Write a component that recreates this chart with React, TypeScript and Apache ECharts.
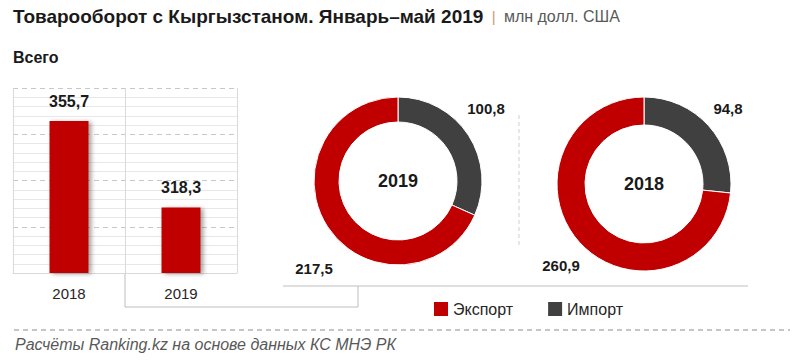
import React, { useEffect, useRef } from "react";
import * as echarts from "echarts";

const barCategories = ["2018", "2019"];
const barTotals = [355.7, 318.3];
const pieYears = ["2019", "2018"];
const exportValues = [217.5, 260.9];
const importValues = [100.8, 94.8];
const seriesNames = ["Экспорт", "Импорт"];
const yTicks = { min: 290, max: 370, interval: 20 };

const RED = "#C00000";
const DARK = "#404040";
const FONT = "'Liberation Sans', Arial, sans-serif";

const fmt = (v: number) => v.toFixed(1).replace(".", ",");

const pieLayout = [
  { center: [398, 181], radius: [59, 84], labelOff: [[88, -73], [-84, 87]] },
  { center: [644, 184], radius: [59, 87], labelOff: [[84, -76], [-83, 81]] },
];

export default function App() {
  const ref = useRef<HTMLDivElement>(null);
  useEffect(() => {
    if (!ref.current) return;
    const chart = echarts.init(ref.current, null, { renderer: "svg" });
    const pieSeries = pieYears.map((year, i) => ({
      type: "pie",
      name: year,
      center: pieLayout[i].center,
      radius: pieLayout[i].radius,
      startAngle: 90,
      clockwise: true,
      avoidLabelOverlap: false,
      silent: true,
      itemStyle: { borderColor: "#fff", borderWidth: 1 },
      label: {
        show: true,
        position: "outside",
        formatter: (p: any) => fmt(p.value),
        fontFamily: FONT,
        fontWeight: "bold",
        fontSize: 15,
        color: "#1a1a1a",
      },
      labelLine: { show: false },
      labelLayout: (p: any) => {
        const off = pieLayout[i].labelOff[p.dataIndex];
        return {
          x: pieLayout[i].center[0] + off[0],
          y: pieLayout[i].center[1] + off[1],
          align: "center",
          verticalAlign: "middle",
        };
      },
      data: [
        { name: seriesNames[1], value: importValues[i], itemStyle: { color: DARK } },
        { name: seriesNames[0], value: exportValues[i], itemStyle: { color: RED } },
      ],
    }));

    chart.setOption({
      animation: false,
      color: [RED, DARK],
      textStyle: { fontFamily: FONT },
      grid: { left: 13, right: 563, top: 88, bottom: 88 },
      xAxis: {
        type: "category",
        data: barCategories,
        axisLine: { show: true, lineStyle: { color: "#d9d9d9" } },
        axisTick: { show: false },
        splitLine: { show: true, lineStyle: { color: "#d9d9d9" } },
        axisLabel: { color: "#262626", fontSize: 15, margin: 13, fontFamily: FONT },
      },
      yAxis: {
        type: "value",
        min: yTicks.min,
        max: yTicks.max,
        interval: yTicks.interval,
        axisLabel: { show: false },
        axisLine: { show: false },
        axisTick: { show: false },
        minorTick: { show: false, splitNumber: 5 },
        splitLine: { show: true, lineStyle: { color: "#c8c8c8", type: [5, 4] } },
        minorSplitLine: { show: true, lineStyle: { color: "#e8e8e8" } },
      },
      legend: {
        data: seriesNames,
        left: 432,
        top: 300,
        padding: 0,
        itemWidth: 16,
        itemHeight: 16,
        itemGap: 33,
        icon: "rect",
        textStyle: { fontSize: 16, color: "#262626", fontFamily: FONT, padding: [0, 0, 0, -1] },
        selectedMode: false,
      },
      series: [
        {
          type: "bar",
          data: barTotals,
          barWidth: 39,
          silent: true,
          itemStyle: {
            color: RED,
            shadowColor: "rgba(0,0,0,0.35)",
            shadowBlur: 4,
            shadowOffsetX: 3,
            shadowOffsetY: 1,
          },
          label: {
            show: true,
            position: "top",
            distance: 12,
            formatter: (p: any) => fmt(p.value),
            fontWeight: "bold",
            fontSize: 16,
            color: "#1a1a1a",
            fontFamily: FONT,
          },
        },
        ...pieSeries,
      ],
      graphic: [
        {
          type: "text",
          left: 13,
          top: 7,
          style: {
            text: "{t|Товарооборот с Кыргызстаном. Январь–май 2019}{s|  |  }{u|млн долл. США}",
            rich: {
              t: { fontSize: 19, fontWeight: "bold", fill: "#1a1a1a", fontFamily: FONT },
              s: { fontSize: 15, fill: "#c99a6e", fontFamily: FONT },
              u: { fontSize: 16, fill: "#595959", fontFamily: FONT },
            },
          },
        },
        {
          type: "text",
          left: 13,
          top: 49,
          style: { text: "Всего", fontSize: 16, fontWeight: "bold", fill: "#1a1a1a", fontFamily: FONT },
        },
        ...pieYears.map((y, i) => ({
          type: "text",
          x: pieLayout[i].center[0],
          y: pieLayout[i].center[1],
          style: {
            text: y,
            fontSize: 18,
            fontWeight: "bold",
            fill: "#1a1a1a",
            fontFamily: FONT,
            align: "center",
            verticalAlign: "middle",
          },
        })),
        {
          type: "polyline",
          shape: { points: [[125, 273], [125, 307], [358, 307], [358, 286]] },
          style: { stroke: "#bfbfbf", lineWidth: 1, fill: null },
        },
        {
          type: "line",
          shape: { x1: 283, y1: 286, x2: 748, y2: 286 },
          style: { stroke: "#bfbfbf", lineWidth: 1 },
        },
        {
          type: "line",
          shape: { x1: 519, y1: 115, x2: 519, y2: 245 },
          style: { stroke: "#cfcfcf", lineWidth: 1, lineDash: [4, 3] },
        },
        {
          type: "line",
          shape: { x1: 14, y1: 330, x2: 790, y2: 330 },
          style: { stroke: "#8c8c8c", lineWidth: 1, lineDash: [5, 4] },
        },
        {
          type: "text",
          left: 15,
          top: 336,
          style: {
            text: "Расчёты Ranking.kz на основе данных КС МНЭ РК",
            fontSize: 16,
            fontStyle: "italic",
            fill: "#595959",
            fontFamily: FONT,
          },
        },
      ],
    });
    return () => chart.dispose();
  }, []);
  return <div ref={ref} style={{ width: 800, height: 361, position: "absolute", left: 0, top: 0 }} />;
}
